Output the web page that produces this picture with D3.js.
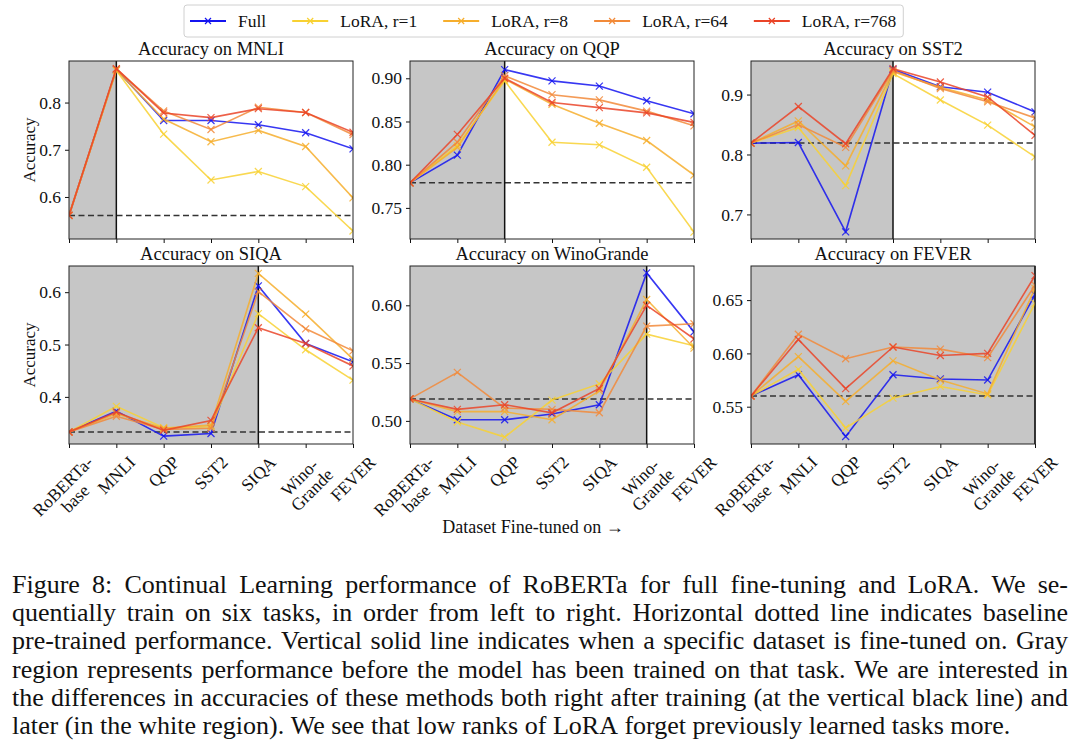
<!DOCTYPE html>
<html lang="en">
<head>
<meta charset="utf-8">
<title>Continual learning accuracy</title>
<script src="https://cdn.jsdelivr.net/npm/d3@7"></script>
<style>
  body { margin: 0; background: #fff; }
  svg text { font-family: "Liberation Serif", "Times New Roman", serif; fill: #111; }
</style>
</head>
<body>
<script>
// categories (x axis) and tick labels
var datasets = ["RoBERTa-base", "MNLI", "QQP", "SST2", "SIQA", "WinoGrande", "FEVER"];
var tickLabels = [["RoBERTa-", "base"], ["MNLI"], ["QQP"], ["SST2"], ["SIQA"], ["Wino-", "Grande"], ["FEVER"]];

// series
var methods = ["Full", "LoRA, r=1", "LoRA, r=8", "LoRA, r=64", "LoRA, r=768"];
var colors = ["#1414f0", "#f8d132", "#f6ae2d", "#f28a39", "#ea4428"];

// panels
var panelNames = ["MNLI", "QQP", "SST2", "SIQA", "WinoGrande", "FEVER"];
var trainedAt = [1, 2, 3, 4, 5, 6];
var baselines = [0.561, 0.779, 0.819, 0.333, 0.519, 0.560];
var yDomains = [[0.511, 0.888], [0.714, 0.920], [0.659, 0.956], [0.310, 0.650], [0.480, 0.634], [0.515, 0.682]];
var yTicks = [[0.6, 0.7, 0.8], [0.75, 0.80, 0.85, 0.90], [0.7, 0.8, 0.9], [0.4, 0.5, 0.6], [0.50, 0.55, 0.60], [0.55, 0.60, 0.65]];
var yFormats = [".1f", ".2f", ".1f", ".1f", ".2f", ".2f"];

// accuracy per panel: [Full, r=1, r=8, r=64, r=768]
var accMNLI = [
  [0.561, 0.870, 0.762, 0.762, 0.753, 0.736, 0.702],
  [0.561, 0.868, 0.733, 0.636, 0.654, 0.622, 0.528],
  [0.561, 0.869, 0.765, 0.717, 0.741, 0.707, 0.598],
  [0.561, 0.871, 0.782, 0.743, 0.790, 0.779, 0.732],
  [0.561, 0.872, 0.778, 0.768, 0.787, 0.779, 0.737]
];
var accQQP = [
  [0.779, 0.811, 0.910, 0.897, 0.891, 0.874, 0.859],
  [0.779, 0.822, 0.897, 0.826, 0.823, 0.797, 0.722],
  [0.779, 0.820, 0.899, 0.870, 0.848, 0.828, 0.788],
  [0.779, 0.826, 0.903, 0.881, 0.875, 0.862, 0.845],
  [0.779, 0.835, 0.900, 0.872, 0.866, 0.860, 0.849]
];
var accSST2 = [
  [0.819, 0.820, 0.671, 0.942, 0.913, 0.904, 0.871],
  [0.819, 0.845, 0.748, 0.935, 0.891, 0.849, 0.796],
  [0.819, 0.856, 0.781, 0.938, 0.912, 0.891, 0.846],
  [0.819, 0.850, 0.812, 0.940, 0.910, 0.888, 0.861],
  [0.819, 0.880, 0.818, 0.943, 0.921, 0.896, 0.832]
];
var accSIQA = [
  [0.333, 0.373, 0.325, 0.330, 0.612, 0.502, 0.467],
  [0.333, 0.382, 0.341, 0.343, 0.559, 0.490, 0.432],
  [0.333, 0.368, 0.340, 0.346, 0.636, 0.558, 0.472],
  [0.333, 0.363, 0.338, 0.340, 0.601, 0.530, 0.488],
  [0.333, 0.371, 0.336, 0.355, 0.532, 0.502, 0.459]
];
var accWino = [
  [0.519, 0.501, 0.501, 0.506, 0.514, 0.628, 0.577],
  [0.519, 0.499, 0.486, 0.518, 0.532, 0.575, 0.565],
  [0.519, 0.508, 0.508, 0.501, 0.526, 0.605, 0.563],
  [0.519, 0.542, 0.511, 0.510, 0.507, 0.582, 0.584],
  [0.519, 0.510, 0.514, 0.507, 0.528, 0.600, 0.571]
];
var accFEVER = [
  [0.560, 0.580, 0.522, 0.580, 0.576, 0.575, 0.655],
  [0.560, 0.585, 0.530, 0.558, 0.569, 0.561, 0.647],
  [0.560, 0.597, 0.555, 0.593, 0.575, 0.562, 0.661],
  [0.560, 0.618, 0.595, 0.606, 0.604, 0.596, 0.664],
  [0.560, 0.613, 0.567, 0.606, 0.598, 0.600, 0.673]
];
var panelData = [accMNLI, accQQP, accSST2, accSIQA, accWino, accFEVER];

var captionLines = [
  "Figure 8: Continual Learning performance of RoBERTa for full fine-tuning and LoRA. We se-",
  "quentially train on six tasks, in order from left to right. Horizontal dotted line indicates baseline",
  "pre-trained performance. Vertical solid line indicates when a specific dataset is fine-tuned on. Gray",
  "region represents performance before the model has been trained on that task. We are interested in",
  "the differences in accuracies of these methods both right after training (at the vertical black line) and",
  "later (in the white region). We see that low ranks of LoRA forget previously learned tasks more."
];

// layout
var svgWidth = 1080, svgHeight = 754;
var colLeft = [69, 410, 751];
var rowTop = [61, 266];
var pw = 284, ph = 178;

var svg = d3.select("body").append("svg")
  .attr("width", svgWidth)
  .attr("height", svgHeight);

var x = d3.scalePoint().domain(datasets).range([0, pw]).padding(0);
var marker = "M-3.5,-3.5L3.5,3.5M-3.5,3.5L3.5,-3.5";

panelNames.forEach(function(name, p) {
  var col = p % 3, row = Math.floor(p / 3);
  var g = svg.append("g").attr("transform", "translate(" + colLeft[col] + "," + rowTop[row] + ")");
  var y = d3.scaleLinear().domain(yDomains[p]).range([ph, 0]);

  g.append("clipPath").attr("id", "clip" + p)
    .append("rect").attr("width", pw).attr("height", ph);

  // gray region before training on this task
  g.append("rect")
    .attr("x", 0).attr("y", 0)
    .attr("width", x(datasets[trainedAt[p]]))
    .attr("height", ph)
    .attr("fill", "#c6c6c6");

  // baseline
  g.append("line")
    .attr("x1", 0).attr("x2", pw)
    .attr("y1", y(baselines[p])).attr("y2", y(baselines[p]))
    .attr("stroke", "#333").attr("stroke-width", 1.5)
    .attr("stroke-dasharray", "6,3.5");

  // vertical line where fine-tuned
  g.append("line")
    .attr("x1", x(datasets[trainedAt[p]])).attr("x2", x(datasets[trainedAt[p]]))
    .attr("y1", 0).attr("y2", ph)
    .attr("stroke", "#111").attr("stroke-width", 1.5);

  var plot = g.append("g").attr("clip-path", "url(#clip" + p + ")");
  var line = d3.line()
    .x(function(d, i) { return x(datasets[i]); })
    .y(function(d) { return y(d); });

  panelData[p].forEach(function(vals, s) {
    plot.append("path")
      .datum(vals)
      .attr("d", line)
      .attr("fill", "none")
      .attr("stroke", colors[s])
      .attr("stroke-width", 1.6)
      .attr("stroke-opacity", 0.85);
    plot.selectAll(null)
      .data(vals)
      .enter().append("path")
      .attr("d", marker)
      .attr("transform", function(d, i) { return "translate(" + x(datasets[i]) + "," + y(d) + ")"; })
      .attr("fill", "none")
      .attr("stroke", colors[s])
      .attr("stroke-width", 1.2)
      .attr("stroke-opacity", 0.85);
  });

  // axes
  var yAxis = d3.axisLeft(y).tickValues(yTicks[p]).tickFormat(d3.format(yFormats[p])).tickSize(4).tickPadding(4);
  var ya = g.append("g").call(yAxis);
  ya.select(".domain").remove();
  ya.selectAll("text").attr("font-size", 17.5).attr("font-family", "Liberation Serif");
  ya.selectAll("line").attr("stroke", "#111");

  var xAxis = d3.axisBottom(x).tickSize(4).tickFormat("");
  var xa = g.append("g").attr("transform", "translate(0," + ph + ")").call(xAxis);
  xa.select(".domain").remove();
  xa.selectAll("line").attr("stroke", "#111");

  g.append("rect")
    .attr("width", pw).attr("height", ph)
    .attr("fill", "none").attr("stroke", "#222").attr("stroke-width", 1);

  g.append("text")
    .attr("x", pw / 2).attr("y", -6)
    .attr("text-anchor", "middle")
    .attr("font-size", 18.5)
    .text("Accuracy on " + name);

  if (col === 0) {
    g.append("text")
      .attr("transform", "translate(" + (29 - colLeft[0]) + "," + (ph / 2) + ") rotate(-90)")
      .attr("text-anchor", "middle")
      .attr("dominant-baseline", "central")
      .attr("font-size", 17)
      .text("Accuracy");
  }

  // rotated tick labels on bottom row only
  if (row === 1) {
    datasets.forEach(function(d, i) {
      var t = g.append("g");
      var txt = t.append("text")
        .attr("text-anchor", "middle")
        .attr("font-size", 17.5);
      tickLabels[i].forEach(function(s, k) {
        txt.append("tspan")
          .attr("x", 0)
          .attr("y", (k - (tickLabels[i].length - 1) / 2) * 17.5 + 6)
          .text(s);
      });
      var bb = txt.node().getBBox();
      var half = (bb.width + bb.height) / (2 * Math.SQRT2);
      t.attr("transform", "translate(" + x(d) + "," + (ph + 8 + half) + ") rotate(-45)");
    });
  }
});

svg.append("text")
  .attr("x", 533).attr("y", 533)
  .attr("text-anchor", "middle")
  .attr("font-size", 18)
  .text("Dataset Fine-tuned on \u2192");

// legend
var leg = svg.append("g");
var legBox = leg.append("rect")
  .attr("y", 5).attr("height", 32).attr("rx", 3)
  .attr("fill", "#fff").attr("stroke", "#d0d0d0");
var lx = 190;
methods.forEach(function(m, s) {
  var e = leg.append("g").attr("transform", "translate(" + lx + ",21)");
  e.append("line").attr("x1", 0).attr("x2", 36).attr("y1", 0).attr("y2", 0)
    .attr("stroke", colors[s]).attr("stroke-width", 1.8);
  e.append("path").attr("d", "M-3,-3L3,3M-3,3L3,-3").attr("transform", "translate(18,0)")
    .attr("fill", "none").attr("stroke", colors[s]).attr("stroke-width", 1.2);
  var t = e.append("text").attr("x", 48).attr("dy", "0.35em").attr("font-size", 17.5).text(m);
  lx += 48 + t.node().getComputedTextLength() + 26;
});
legBox.attr("x", 184).attr("width", lx - 26 + 7 - 184);

// caption, justified
var capLeft = 12, capRight = 1068, capSize = 26;
captionLines.forEach(function(line, li) {
  var words = line.split(" ");
  var yb = 593 + li * 28.2;
  var tg = svg.append("g");
  var widths = words.map(function(w) {
    var t = tg.append("text").attr("font-size", capSize).text(w);
    var wd = t.node().getComputedTextLength();
    t.remove();
    return wd;
  });
  var total = d3.sum(widths);
  var gap = li === captionLines.length - 1 ? capSize * 0.25 : (capRight - capLeft - total) / (words.length - 1);
  var cx = capLeft;
  words.forEach(function(w, k) {
    tg.append("text").attr("x", cx).attr("y", yb).attr("font-size", capSize).text(w);
    cx += widths[k] + gap;
  });
});
</script>
</body>
</html>
